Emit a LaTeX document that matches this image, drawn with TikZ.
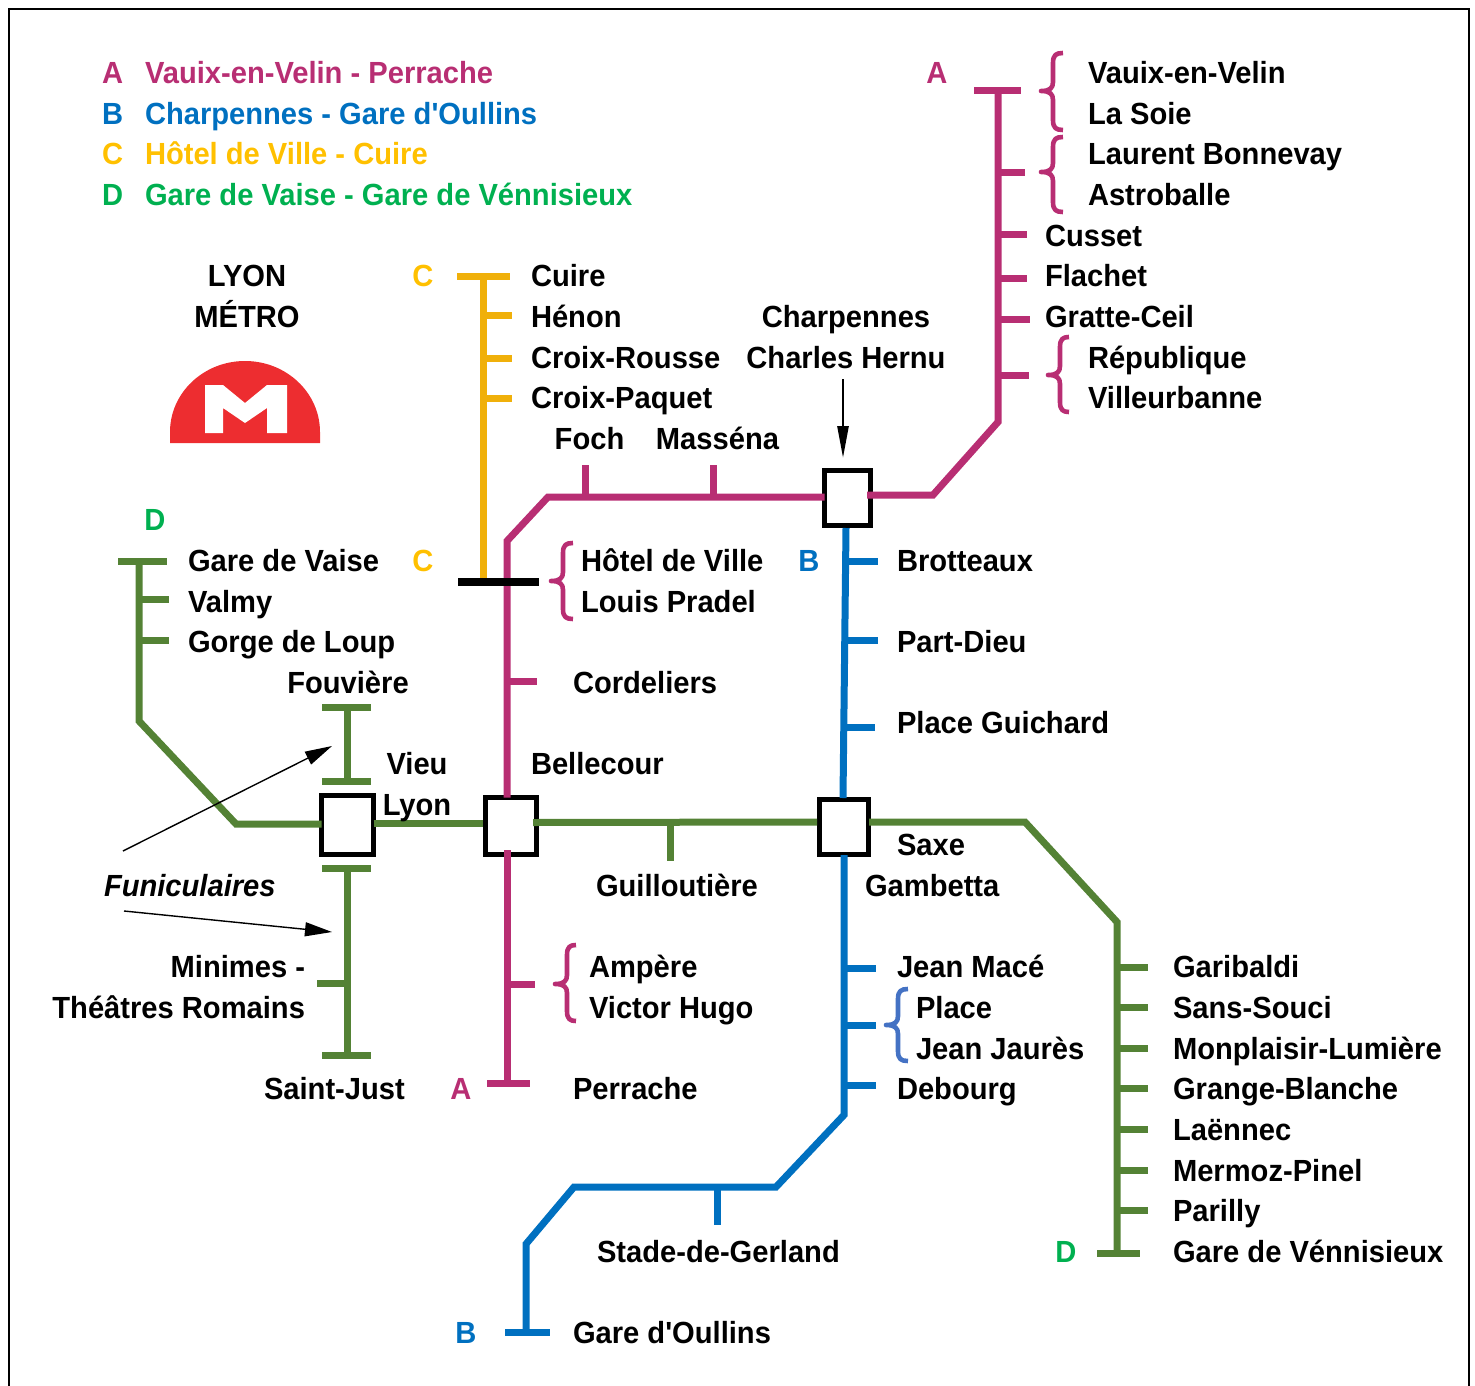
\documentclass[tikz,border=0pt]{standalone}
\usepackage{fontspec}
\newfontfamily\lblfont{Liberation Sans}[FakeStretch=0.952]
\usetikzlibrary{arrows.meta}
\definecolor{lineA}{RGB}{184,46,115}
\definecolor{lineB}{RGB}{0,112,192}
\definecolor{lineC}{RGB}{240,176,10}
\definecolor{lineCt}{RGB}{255,192,0}
\definecolor{lineD}{RGB}{84,130,53}
\definecolor{lineDt}{RGB}{0,176,80}
\definecolor{braceB}{RGB}{68,114,196}
\definecolor{logored}{RGB}{237,45,48}
\tikzset{
  x=1pt,y=-1pt,
  lbl/.style={anchor=base west,inner sep=0pt,outer sep=0pt,yshift=0.7pt,font=\lblfont\bfseries\fontsize{30.6}{36}\selectfont},
  clbl/.style={lbl,anchor=base},
  rlbl/.style={lbl,anchor=base east},
  metro/.style={line width=7pt,line cap=butt,line join=miter},
  stationbox/.style={draw=black,fill=white,line width=5pt,inner sep=0pt,outer sep=0pt,minimum width=#1},
  brace/.style={line width=4.6pt,line cap=butt,line join=round},
  pointer/.style={black,line width=1.4pt,-{Triangle[length=27pt,width=14pt]}},
  bigpointer/.style={black,line width=2.6pt,-{Triangle[length=32pt,width=11pt]}},
}
% brace: #1 colour, #2 tip x, #3 spine x, #4 end x, #5 top y, #6 tip y, #7 bottom y
\newcommand{\bracepath}[7]{%
  \draw[brace,#1] (#4,#5) .. controls (#3+3,#5) and (#3,#5+2) .. (#3,#5+10)
    -- (#3,#6-9) .. controls (#3,#6-3) and (#3-3,#6) .. (#2,#6)
    .. controls (#3-3,#6) and (#3,#6+3) .. (#3,#6+9)
    -- (#3,#7-10) .. controls (#3,#7-2) and (#3+3,#7) .. (#4,#7);}
\newcommand{\tickh}[5]{\draw[metro,#1] (#2,#3) coordinate (#5a) -- (#4,#3) coordinate (#5b);}
\begin{document}
\begin{tikzpicture}
\useasboundingbox (0,0) rectangle (1475,1386);
\draw[black,line width=2pt] (9,1392) -- (9,9) -- (1469,9) -- (1469,1392);

% Legend
\node[lbl,text=lineA] (la) at (102,84) {A};
\node[lbl,text=lineA] (lat) at (145,84) {Vauix-en-Velin - Perrache};
\node[lbl,text=lineB] (lb) at (102,125) {B};
\node[lbl,text=lineB] (lbt) at (145,125) {Charpennes - Gare d'Oullins};
\node[lbl,text=lineCt] (lc) at (102,165) {C};
\node[lbl,text=lineCt] (lct) at (145,165) {Hôtel de Ville - Cuire};
\node[lbl,text=lineDt] (ld) at (102,206) {D};
\node[lbl,text=lineDt] (ldt) at (145,206) {Gare de Vaise - Gare de Vénnisieux};

% Logo
\node[clbl] (lyon) at (247,287) {LYON};
\node[clbl] (metrot) at (247,328) {MÉTRO};
\fill[logored] (170,443) -- (170,432) arc[start angle=180,end angle=0,radius=75,y radius=-71] -- (320,443) -- cycle;
\fill[white] (205,385) -- (223,385) -- (245,403) -- (267,385) -- (287,385) -- (287,433) -- (267,433) -- (267,408) -- (245,423) -- (223,408) -- (223,433) -- (205,433) -- cycle;

% Stations
\node[stationbox=46pt,minimum height=55pt] (charp) at (847.5,498) {};
\node[stationbox=52pt,minimum height=59pt] (vieux) at (347.5,825) {};
\node[stationbox=51pt,minimum height=57pt] (belle) at (511,826) {};
\node[stationbox=49pt,minimum height=55pt] (saxe) at (844,827) {};

% Coordinates
\coordinate (atop) at (998,91);
\coordinate (abend) at (998,422);
\coordinate (abend2) at (933,495);
\coordinate (am1) at (548,497);
\coordinate (am2) at (507,541);
\coordinate (ab) at (507,1083);
\coordinate (bb1) at (844,1115);
\coordinate (bb2) at (776,1187);
\coordinate (bb3) at (574,1187);
\coordinate (bb4) at (526,1244);
\coordinate (bb5) at (526,1332);
\coordinate (ctop) at (483,276);
\coordinate (cbot) at (483,578);
\coordinate (dtop) at (139,561);
\coordinate (d1) at (139,721);
\coordinate (d2) at (236,824);
\coordinate (d3) at (1025,822);
\coordinate (d4) at (1117,922);
\coordinate (d5) at (1117,1253);
\coordinate (ftop) at (347,707);
\coordinate (f2) at (347,781);
\coordinate (f3) at (347,868);
\coordinate (f4) at (347,1055);

% Line A
\draw[metro,lineA] (atop) -- (abend) -- (abend2) -- (867,495);
\draw[metro,lineA] (974,91) -- (1021,91);
\tickh{lineA}{998}{172}{1025}{ta1}
\tickh{lineA}{998}{234}{1027}{ta2}
\tickh{lineA}{998}{278}{1027}{ta3}
\tickh{lineA}{998}{319}{1030}{ta4}
\tickh{lineA}{998}{375}{1029}{ta5}
\draw[metro,lineA] (am1 -| charp.west) -- (am1) -- (am2) -- (am2 |- belle.north);
\draw[metro,lineA] (585,497) -- (585,465);
\draw[metro,lineA] (713,497) -- (713,465);
\tickh{lineA}{507}{681}{537}{ta6}
\draw[metro,lineA] (507,850) -- (ab);
\draw[metro,lineA] (487,1083) -- (530,1083);
\tickh{lineA}{507}{984}{535}{ta7}

% Line C
\draw[metro,lineC] (ctop) -- (cbot);
\draw[metro,lineC] (457,276) -- (510,276);
\tickh{lineC}{483}{315}{512}{tc1}
\tickh{lineC}{483}{358}{512}{tc2}
\tickh{lineC}{483}{398}{512}{tc3}
\draw[black,line width=7.5pt] (458,582) -- (539,582);

% Line B
\draw[metro,lineB] (846,528) -- (843,798);
\tickh{lineB}{846}{561}{878}{tb1}
\tickh{lineB}{846}{640}{878}{tb2}
\tickh{lineB}{845}{727}{875}{tb3}
\draw[metro,lineB] (844,855) -- (bb1) -- (bb2) -- (bb3) -- (bb4) -- (bb5);
\tickh{lineB}{844}{968}{876}{tb4}
\tickh{lineB}{844}{1025}{876}{tb5}
\tickh{lineB}{844}{1085}{876}{tb6}
\draw[metro,lineB] (717,1187) -- (717,1225);
\draw[metro,lineB] (505,1332) -- (550,1332);

% Line D
\draw[metro,lineD] (dtop) -- (d1) -- (d2) -- (d2 -| vieux.west);
\draw[metro,lineD] (118,561) -- (167,561);
\tickh{lineD}{139}{599}{169}{td1}
\tickh{lineD}{139}{640}{169}{td2}
\draw[metro,lineD] (vieux.east |- 0,823) -- (483,823);
\draw[metro,lineD] (533,822.5) -- (817,822);
\draw[metro,lineD] (670,822) -- (670,861);
\draw[metro,lineD] (869,822) -- (d3) -- (d4) -- (d5);
\tickh{lineD}{1117}{967}{1148}{td3}
\tickh{lineD}{1117}{1007}{1148}{td4}
\tickh{lineD}{1117}{1048}{1148}{td5}
\tickh{lineD}{1117}{1088}{1148}{td6}
\tickh{lineD}{1117}{1129}{1148}{td7}
\tickh{lineD}{1117}{1170}{1148}{td8}
\tickh{lineD}{1117}{1210}{1148}{td9}
\draw[metro,lineD] (1097,1253) -- (1140,1253);

% Funiculars
\draw[metro,lineD] (ftop) -- (f2);
\draw[metro,lineD] (322,707) -- (371,707);
\draw[metro,lineD] (322,781) -- (371,781);
\draw[metro,lineD] (f3) -- (f4);
\draw[metro,lineD] (322,868) -- (371,868);
\draw[metro,lineD] (322,1055) -- (371,1055);
\tickh{lineD}{347}{983}{317}{tf1}

% Braces
\bracepath{lineA}{1041}{1053}{1063}{53}{91}{130}
\bracepath{lineA}{1041}{1053}{1063}{137}{172}{212}
\bracepath{lineA}{1048}{1060}{1069}{337}{375}{412}
\bracepath{lineA}{551}{563}{573}{543}{581}{619}
\bracepath{lineA}{555}{567}{576}{945}{984}{1021}
\bracepath{braceB}{886}{898}{908}{989}{1025}{1061}

% Pointers
\coordinate (p1s) at (843,379);
\coordinate (p1e) at (843,458);
\coordinate (fn1) at (123,851);
\coordinate (fn2) at (332,746);
\coordinate (fn3) at (124,911);
\coordinate (fn4) at (332,932);
\draw[bigpointer] (p1s) -- (p1e);
\draw[pointer] (fn1) -- (fn2);
\draw[pointer] (fn3) -- (fn4);

% Line letters
\node[clbl,text=lineA] (na) at (937,84) {A};
\node[clbl,text=lineCt] (nc) at (423,287) {C};
\node[clbl,text=lineDt] (nd) at (155,531) {D};
\node[clbl,text=lineCt] (nc2) at (423,572) {C};
\node[clbl,text=lineB] (nb) at (809,572) {B};
\node[clbl,text=lineA] (na2) at (461,1100) {A};
\node[clbl,text=lineDt] (nd2) at (1066,1263) {D};
\node[clbl,text=lineB] (nb2) at (466,1344) {B};

% Stations text
\node[lbl] (s1) at (1088,84) {Vauix-en-Velin};
\node[lbl] (s2) at (1088,125) {La Soie};
\node[lbl] (s3) at (1088,165) {Laurent Bonnevay};
\node[lbl] (s4) at (1088,206) {Astroballe};
\node[lbl] (s5) at (1045,247) {Cusset};
\node[lbl] (s6) at (1045,287) {Flachet};
\node[lbl] (s7) at (1045,328) {Gratte-Ceil};
\node[lbl] (s8) at (1088,369) {République};
\node[lbl] (s9) at (1088,409) {Villeurbanne};
\node[lbl] (c1) at (531,287) {Cuire};
\node[lbl] (c2) at (531,328) {Hénon};
\node[lbl] (c3) at (531,369) {Croix-Rousse};
\node[lbl] (c4) at (531,409) {Croix-Paquet};
\node[clbl] (ch1) at (846,328) {Charpennes};
\node[clbl] (ch2) at (846,369) {Charles Hernu};
\node[clbl] (foch) at (589.5,450) {Foch};
\node[clbl] (mass) at (717.5,450) {Masséna};
\node[lbl] (d1t) at (188,572) {Gare de Vaise};
\node[lbl] (d2t) at (188,613) {Valmy};
\node[lbl] (d3t) at (188,653) {Gorge de Loup};
\node[clbl] (fou) at (348,694) {Fouvière};
\node[clbl] (vl1) at (417,775) {Vieu};
\node[clbl] (vl2) at (417,816) {Lyon};
\node[lbl] (hv) at (581,572) {Hôtel de Ville};
\node[lbl] (lp) at (581,613) {Louis Pradel};
\node[lbl] (cord) at (573,694) {Cordeliers};
\node[lbl] (bell) at (531,775) {Bellecour};
\node[lbl] (brot) at (897,572) {Brotteaux};
\node[lbl] (pd) at (897,653) {Part-Dieu};
\node[lbl] (pg) at (897,734) {Place Guichard};
\node[lbl] (sx) at (897,856) {Saxe};
\node[lbl] (gam) at (865,897) {Gambetta};
\node[lbl] (gui) at (596,897) {Guilloutière};
\node[lbl,font=\lblfont\bfseries\itshape\fontsize{30.6}{36}\selectfont] (fun) at (104,897) {Funiculaires};
\node[rlbl] (min) at (305,978) {Minimes -};
\node[rlbl] (tr) at (305,1019) {Théâtres Romains};
\node[lbl] (sj) at (264,1100) {Saint-Just};
\node[lbl] (amp) at (589,978) {Ampère};
\node[lbl] (vh) at (589,1019) {Victor Hugo};
\node[lbl] (per) at (573,1100) {Perrache};
\node[lbl] (jm) at (897,978) {Jean Macé};
\node[lbl] (pl) at (916,1019) {Place};
\node[lbl] (jj) at (916,1060) {Jean Jaurès};
\node[lbl] (deb) at (897,1100) {Debourg};
\node[lbl] (g1) at (1173,978) {Garibaldi};
\node[lbl] (g2) at (1173,1019) {Sans-Souci};
\node[lbl] (g3) at (1173,1060) {Monplaisir-Lumière};
\node[lbl] (g4) at (1173,1100) {Grange-Blanche};
\node[lbl] (g5) at (1173,1141) {Laënnec};
\node[lbl] (g6) at (1173,1182) {Mermoz-Pinel};
\node[lbl] (g7) at (1173,1222) {Parilly};
\node[lbl] (g8) at (1173,1263) {Gare de Vénnisieux};
\node[lbl] (sg) at (597,1263) {Stade-de-Gerland};
\node[lbl] (go) at (573,1344) {Gare d'Oullins};
\end{tikzpicture}
\end{document}
